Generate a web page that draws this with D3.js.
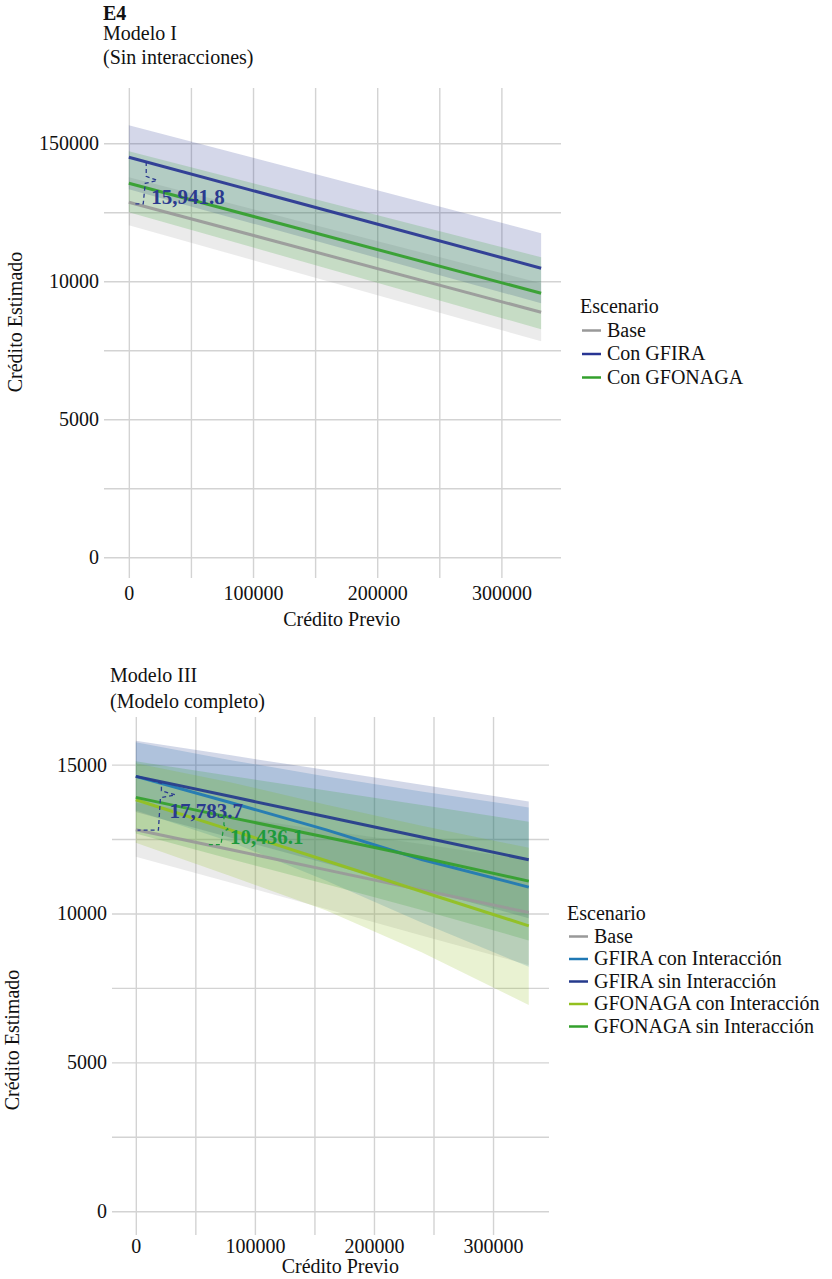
<!DOCTYPE html>
<html lang="es">
<head>
<meta charset="UTF-8">
<title>E4 - Crédito Estimado</title>
<script src="https://d3js.org/d3.v7.min.js"></script>
<style>
  body { margin: 0; background: #fff; }
  svg { display: block; font-family: "Liberation Serif", "DejaVu Serif", serif; }
  svg text { font-family: "Liberation Serif", "DejaVu Serif", serif; }
  .axis .domain { display: none; }
  .axis line { stroke: #d3d3d3; stroke-width: 1.4px; }
  .axis text { font-size: 20px; fill: #111; }
  .title, .axis-title, .legend text { font-size: 20px; fill: #111; }
  .note { font-size: 21px; font-weight: bold; }
</style>
</head>
<body>
<svg width="832" height="1279"></svg>
<script>
// Modelo I (sin interacciones)
const m1Scenarios = ["Base", "Con GFIRA", "Con GFONAGA"];
const m1Colors = ["#999999", "#283593", "#33a02c"];
const m1X = [0, 332000];
const m1Mean = [[12862, 8877], [14493, 10471], [13551, 9565]];
const m1Lo = [[12029, 7826], [13333, 9203], [12500, 8261]];
const m1Hi = [[13768, 9927], [15652, 11739], [14710, 10870]];
const m1YLabels = ["0", "5000", "10000", "150000"];
const m1Notes = ["15,941.8"];

// Modelo III (modelo completo)
const m3Scenarios = ["Base", "GFIRA con Interacción", "GFIRA sin Interacción",
                     "GFONAGA con Interacción", "GFONAGA sin Interacción"];
const m3Colors = ["#999999", "#1f78b4", "#253a8c", "#93c01f", "#33a02c"];
const m3X = [0, 80000, 160000, 240000, 330000];
const m3Mean = [
  [12813, 12140, 11465, 10790, 10032],
  [14606, 13718, 12810, 11815, 10886],
  [14606, 13927, 13247, 12568, 11803],
  [13822, 12800, 11770, 10740, 9585],
  [13900, 13220, 12560, 11880, 11088]
];
const m3Lo = [
  [11905, 11030, 10150, 9260, 8273],
  [13460, 12400, 11100, 9700, 8209],
  [13406, 12542, 11679, 10815, 9843],
  [12376, 11250, 10100, 8700, 6930],
  [12690, 11820, 10980, 10120, 9094]
];
const m3Hi = [
  [13720, 13250, 12790, 12330, 11792],
  [15750, 15150, 14600, 14100, 13563],
  [15806, 15311, 14817, 14322, 13765],
  [15050, 14400, 13650, 12950, 12208],
  [15110, 14620, 14130, 13640, 13082]
];
const m3YLabels = ["0", "5000", "10000", "15000"];
const m3Notes = ["17,783.7", "10,436.1"];

const yTicks = [0, 5000, 10000, 15000];
const xTicks = [0, 100000, 200000, 300000];

const svg = d3.select("svg");

// value of a drawn series at c (used to hook the brackets onto the lines)
function along(xs, ys, c) {
  for (let i = 1; i < xs.length; i++) {
    if (c <= xs[i]) {
      const t = (c - xs[i - 1]) / (xs[i] - xs[i - 1]);
      return ys[i - 1] + t * (ys[i] - ys[i - 1]);
    }
  }
  return ys[ys.length - 1];
}

function drawPanel(p) {
  const g = svg.append("g");
  const x = d3.scaleLinear().domain(p.xDomain).range(p.xRange);
  const y = d3.scaleLinear().domain(p.yDomain).range(p.yRange);
  const W = p.xRange[1] - p.xRange[0];
  const H = p.yRange[0] - p.yRange[1];

  // titles
  p.titles.forEach((t, i) => {
    g.append("text").attr("class", "title")
      .attr("x", p.titleX).attr("y", p.titleY[i])
      .style("font-weight", t.bold ? "bold" : "normal")
      .text(t.text);
  });

  // axes with grid
  g.append("g").attr("class", "axis")
    .attr("transform", `translate(${p.xRange[0]},0)`)
    .call(d3.axisLeft(y).tickValues(d3.range(0, 15001, 2500)).tickSize(-W).tickPadding(5)
      .tickFormat(d => yTicks.includes(d) ? p.yLabels[yTicks.indexOf(d)] : ""));

  g.append("g").attr("class", "axis")
    .attr("transform", `translate(0,${p.yRange[0]})`)
    .call(d3.axisBottom(x).tickValues(d3.range(0, 300001, 50000)).tickSize(-H).tickPadding(p.xPad)
      .tickFormat(d => xTicks.includes(d) ? String(d) : ""));

  g.selectAll(".axis").attr("font-family", null);

  g.append("text").attr("class", "axis-title")
    .attr("text-anchor", "middle")
    .attr("x", (x(0) + x(330000)) / 2 + 8).attr("y", p.xTitleY)
    .text("Crédito Previo");

  g.append("text").attr("class", "axis-title")
    .attr("text-anchor", "middle")
    .attr("transform", `translate(${p.yTitleX},${p.yTitleY}) rotate(-90)`)
    .text("Crédito Estimado");

  // bands
  const area = d3.area().x(d => x(d.c)).y0(d => y(d.lo)).y1(d => y(d.hi));
  const line = d3.line().x(d => x(d.c)).y(d => y(d.v));

  p.names.forEach((name, i) => {
    const pts = p.xs.map((c, j) => ({ c: c, lo: p.lo[i][j], hi: p.hi[i][j] }));
    g.append("path").attr("d", area(pts))
      .attr("fill", p.colors[i]).attr("fill-opacity", 0.2);
  });

  p.names.forEach((name, i) => {
    const pts = p.xs.map((c, j) => ({ c: c, v: p.mean[i][j] }));
    g.append("path").attr("d", line(pts))
      .attr("fill", "none").attr("stroke", p.colors[i])
      .attr("stroke-width", 3).attr("stroke-opacity", 0.92);
  });

  // bracket annotations between a scenario and Base
  p.notes.forEach((n, k) => {
    const L = p.noteLayout[k];
    const xT = x(L.cTop), yT = y(along(p.xs, p.mean[L.series], L.cTop));
    const xB = x(L.cBot), yB = y(along(p.xs, p.mean[0], L.cBot));
    const xM = x(L.cMid);
    const ym = yT + L.frac * (yB - yT);
    const pts = [[xT, yT], [xM, yT + L.step], [xM, ym - 4], [xM + L.tip, ym],
                 [xM - 1, ym + 3], [xM - 3, yB], [xB, yB]];
    g.append("path").attr("d", d3.line()(pts))
      .attr("fill", "none").attr("stroke", L.color)
      .attr("stroke-width", 1.3).attr("stroke-dasharray", "4,3");
    g.append("text").attr("class", "note")
      .attr("x", xM + L.tip + L.dx).attr("y", ym + L.dy).attr("dy", "0.35em")
      .attr("fill", L.color).text(n);
  });

  // legend
  const lg = g.append("g").attr("class", "legend")
    .attr("transform", `translate(${p.legendX},${p.legendY})`);
  lg.append("text").attr("x", -2).attr("y", 0).text("Escenario");
  p.names.forEach((name, i) => {
    const yy = p.legendGap * (i + 1);
    lg.append("line").attr("x1", 0).attr("x2", 19).attr("y1", yy - 6).attr("y2", yy - 6)
      .attr("stroke", p.colors[i]).attr("stroke-width", 2.5);
    lg.append("text").attr("x", 25).attr("y", yy).text(name);
  });
}

drawPanel({
  names: m1Scenarios, colors: m1Colors, xs: m1X,
  mean: m1Mean, lo: m1Lo, hi: m1Hi, yLabels: m1YLabels, notes: m1Notes,
  xDomain: [-20000, 348000], xRange: [104, 561],
  yDomain: [-750, 17000], yRange: [578, 88],
  xPad: 8, xTitleY: 626, yTitleX: 22, yTitleY: 322,
  titleX: 103, titleY: [20, 40, 64],
  titles: [{ text: "E4", bold: true }, { text: "Modelo I" }, { text: "(Sin interacciones)" }],
  legendX: 582, legendY: 313, legendGap: 23.5,
  noteLayout: [
    { series: 1, cTop: 14000, cMid: 14000, cBot: 5000, tip: 11, frac: 0.44, step: 0,
      dx: -6, dy: 16, color: "#2b3a8f" }
  ]
});

drawPanel({
  names: m3Scenarios, colors: m3Colors, xs: m3X,
  mean: m3Mean, lo: m3Lo, hi: m3Hi, yLabels: m3YLabels, notes: m3Notes,
  xDomain: [-20000, 347000], xRange: [112, 549],
  yDomain: [-800, 16600], yRange: [1235, 717],
  xPad: 4, xTitleY: 1273, yTitleX: 19, yTitleY: 1040,
  titleX: 110, titleY: [682, 708],
  titles: [{ text: "Modelo III" }, { text: "(Modelo completo)" }],
  legendX: 569, legendY: 920, legendGap: 22.5,
  noteLayout: [
    { series: 2, cTop: 7500, cMid: 21500, cBot: 1500, tip: 14, frac: 0.32, step: 5,
      dx: -6, dy: 16, color: "#2b3a8f" },
    { series: 4, cTop: 74800, cMid: 74000, cBot: 59400, tip: 4, frac: 0.45, step: 0,
      dx: 2, dy: 8, color: "#1d9a3c" }
  ]
});
</script>
</body>
</html>
